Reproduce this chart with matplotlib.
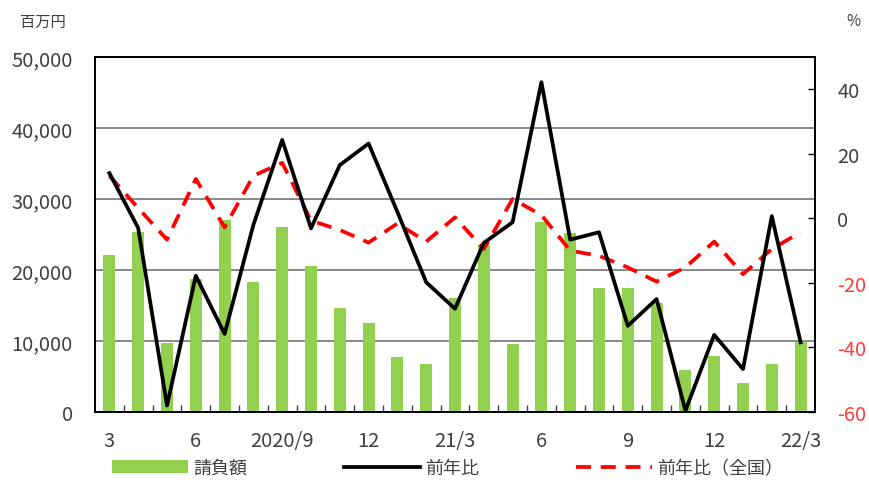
import numpy as np
import matplotlib.pyplot as plt
from matplotlib.ticker import FuncFormatter

plt.rcParams['font.family'] = ['Noto Sans CJK JP', 'DejaVu Sans']

months = ["3", "4", "5", "6", "7", "8", "2020/9", "10", "11", "12", "21/1", "2",
          "21/3", "4", "5", "6", "7", "8", "9", "10", "11", "12", "22/1", "2", "22/3"]
shown_labels = {0: "3", 3: "6", 6: "2020/9", 9: "12", 12: "21/3",
                15: "6", 18: "9", 21: "12", 24: "22/3"}

contract = [22100, 25300, 9700, 18800, 27000, 18300, 26000, 20500, 14700, 12500,
            7700, 6800, 16000, 23500, 9600, 26700, 25200, 17500, 17400, 15300,
            5900, 7900, 4100, 6800, 9900]
yoy = [14.0, -3.0, -58.0, -17.8, -35.8, -2.0, 24.3, -3.1, 16.5, 23.2,
       2.0, -19.8, -28.0, -7.6, -1.2, 42.2, -6.6, -4.3, -33.3, -25.0,
       -59.6, -36.1, -46.7, 0.7, -38.4]
yoy_national = [13.2, 3.2, -6.6, 12.2, -2.8, 13.2, 17.2, -0.7, -3.6, -7.5,
                -1.6, -7.2, 0.3, -9.5, 6.0, 1.0, -10.0, -11.6, -15.2, -19.6,
                -15.2, -7.2, -17.3, -9.5, -4.3]
right_ticks = [-60, -40, -20, 0, 20, 40]

GREEN = "#92D050"
TXT = "#404040"
RED_TXT = "#FF3B3B"

fig = plt.figure(figsize=(8.7, 4.81), dpi=100)
ax = fig.add_axes([95 / 870, 1 - 413 / 481, 720 / 870, 355 / 481])
ax2 = ax.twinx()

x = np.arange(len(months))
bars = ax.bar(x, contract, width=0.42, color=GREEN, zorder=2, label="請負額")
ax.set_ylim(0, 50000)
ax.set_xlim(-0.5, len(months) - 0.5)
ax.set_yticks(np.arange(0, 50001, 10000))
ax.yaxis.set_major_formatter(FuncFormatter(lambda v, p: f"{int(v):,}"))
ax.grid(True, axis="y", color="#7f7f7f", lw=1.3, zorder=1)
ax.set_axisbelow(True)
ax.tick_params(axis="y", length=0, labelsize=14.5, labelcolor=TXT, pad=16)

ax.set_xticks(list(shown_labels.keys()))
ax.set_xticklabels(list(shown_labels.values()))
ax.set_xticks(np.arange(0.5, len(months) - 1, 1), minor=True)
ax.tick_params(axis="x", which="major", length=0, labelsize=14.5, labelcolor=TXT, pad=13)
ax.tick_params(axis="x", which="minor", direction="in", length=5, width=1, color="#404040")

line1, = ax2.plot(x, yoy, color="black", lw=2.7, zorder=4, label="前年比")
line2, = ax2.plot(x, yoy_national, color="#FF0000", lw=2.7, zorder=3,
                  dashes=(4, 2.6), label="前年比（全国）")
ax2.set_ylim(-60, 50)
ax2.set_yticks(right_ticks)
ax2.set_yticklabels([str(v) for v in right_ticks])
ax2.tick_params(axis="y", direction="in", length=5, width=1, labelsize=14.5, pad=16)
for tick, v in zip(ax2.yaxis.get_major_ticks(), right_ticks):
    tick.label2.set_color(RED_TXT if v < 0 else TXT)

for a in (ax, ax2):
    for s in a.spines.values():
        s.set_color("black")
        s.set_linewidth(1.3)

fig.text(20 / 870, 1 - 22 / 481, "百万円", fontsize=11, color=TXT, ha="left", va="center")
fig.text(853 / 870, 1 - 22 / 481, "%", fontsize=11, color=TXT, ha="center", va="center")

fig.legend([bars, line1, line2], ["請負額", "前年比", "前年比（全国）"],
           loc="center left", bbox_to_anchor=(112 / 870, 1 - 469 / 481), ncol=3,
           frameon=False, fontsize=13, handlelength=4.2, handletextpad=0.3,
           columnspacing=5.35, borderaxespad=0, borderpad=0, labelcolor=TXT)

fig.savefig("out.png", dpi=100)
